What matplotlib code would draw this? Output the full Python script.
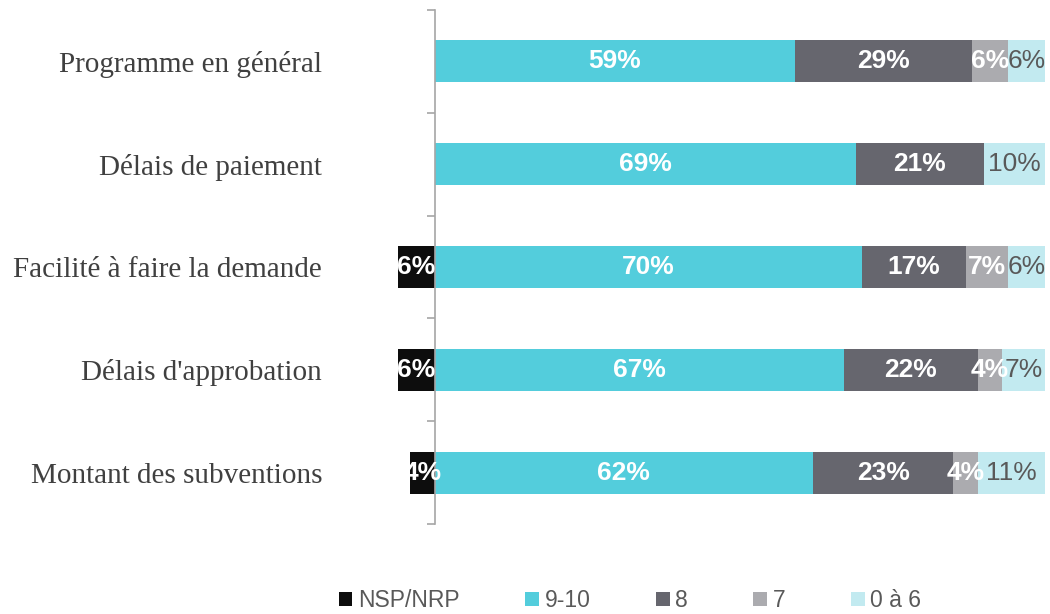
import matplotlib.pyplot as plt
import numpy as np

# categories, top to bottom
categories = ["Programme en général", "Délais de paiement", "Facilité à faire la demande",
              "Délais d'approbation", "Montant des subventions"]
series = ["NSP/NRP", "9-10", "8", "7", "0 à 6"]
nsp = [0, 0, 6, 6, 4]
v910 = [59, 69, 70, 67, 62]
v8 = [29, 21, 17, 22, 23]
v7 = [6, 0, 7, 4, 4]
v06 = [6, 10, 6, 7, 11]

colors = ["#0d0d0d", "#53cddc", "#66666e", "#ababaf", "#c2eaf0"]
label_font = ['Liberation Sans Narrow', 'Liberation Sans', 'DejaVu Sans']

fig = plt.figure(figsize=(10.5, 6.14), dpi=100)
ax = fig.add_axes([398 / 1050, 90 / 614, 647 / 1050, 514 / 614])

y = np.arange(len(categories))
h = 0.41

# NSP goes to the left of zero
ax.barh(y, [-v for v in nsp], height=h, color=colors[0], label=series[0])
left = np.zeros(len(categories))
for vals, col, name in zip([v910, v8, v7, v06], colors[1:], series[1:]):
    ax.barh(y, vals, left=left, height=h, color=col, label=name)
    for i, v in enumerate(vals):
        if v > 0:
            if name == "0 à 6":
                ax.text(left[i] + v / 2, y[i], f"{v}%", ha='center', va='center',
                        fontsize=19, color="#595959", family=label_font)
            else:
                ax.text(left[i] + v / 2, y[i], f"{v}%", ha='center', va='center',
                        fontsize=19, color="white", fontweight='bold', family=label_font)
    left += np.array(vals)

for i, v in enumerate(nsp):
    if v > 0:
        ax.text(-v / 2, y[i], f"{v}%", ha='center', va='center',
                fontsize=19, color="white", fontweight='bold', family=label_font)

ax.set_xlim(-6, 100)
ax.set_ylim(len(categories) - 0.5, -0.5)

for s in ['top', 'right', 'bottom']:
    ax.spines[s].set_visible(False)
ax.spines['left'].set_position(('data', 0))
ax.spines['left'].set_color("#a6a6a6")
ax.spines['left'].set_linewidth(1.2)
ax.set_xticks([])

ax.set_yticks(y)
ax.set_yticklabels(categories, family='Liberation Serif', fontsize=21, color="#404040")
ax.set_yticks(np.arange(-0.5, len(categories)), minor=True)
ax.tick_params(axis='y', which='major', length=0, pad=81)
ax.tick_params(axis='y', which='minor', length=6, width=1.2, color="#a6a6a6", direction='out')

leg = fig.legend(loc='center', ncol=5, frameon=False,
                 handlelength=0.6, handleheight=0.6, handletextpad=0.25, columnspacing=2.85,
                 prop={'family': 'Liberation Sans', 'size': 16.5}, labelcolor="#595959")
leg.set_bbox_to_anchor((0.6, 0.022))

fig.savefig("out.png", dpi=100)
